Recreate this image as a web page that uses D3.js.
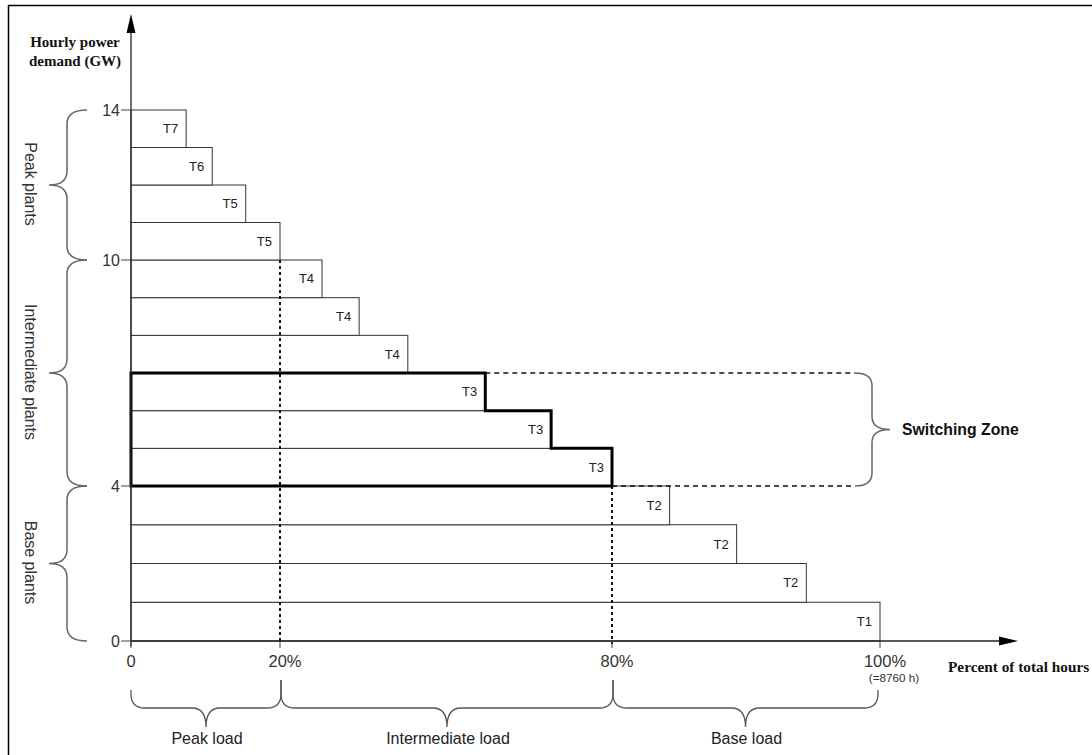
<!DOCTYPE html>
<html>
<head>
<meta charset="utf-8">
<script src="https://cdn.jsdelivr.net/npm/d3@7"></script>
<style>
  html, body { margin: 0; padding: 0; background: #fff; }
  svg { display: block; }
  text.sans { font-family: "Liberation Sans", Arial, sans-serif; }
  text.serif { font-family: "Liberation Serif", "Times New Roman", serif; font-weight: bold; }
</style>
</head>
<body>
<script>
// ---- Data ----
// Each bar spans one GW band [level, level+1] and runs from 0% to its end (% of total hours)
const levels   = [0, 1, 2, 3, 4, 5, 6, 7, 8, 9, 10, 11, 12, 13];
const endPct   = [100, 94.5, 89.3, 84.3, 80, 69, 57.1, 43.1, 34.3, 27.6, 20, 15.4, 10.9, 7.4];
const plantLabels = ["T1", "T2", "T2", "T2", "T3", "T3", "T3", "T4", "T4", "T4", "T5", "T5", "T6", "T7"];

const yTicks = [0, 4, 10, 14];
const xTicks = [0, 20, 80, 100];
const xTickLabels = ["0", "20%", "80%", "100%"];
const xTickSub = ["", "", "", "(=8760 h)"];

const plantGroups = [
  { name: "Peak plants", from: 10, to: 14 },
  { name: "Intermediate plants", from: 4, to: 10 },
  { name: "Base plants", from: 0, to: 4 }
];
const loadGroups = [
  { name: "Peak load", from: 0, to: 20 },
  { name: "Intermediate load", from: 20, to: 80 },
  { name: "Base load", from: 80, to: 100 }
];
const switchingLabel = "T3";
const switchingName = "Switching Zone";

// ---- Setup ----
const W = 1092, H = 755;
const svg = d3.select("body").append("svg").attr("width", W).attr("height", H);

// Piecewise scales (the original figure is not drawn to uniform scale)
const x = d3.scaleLinear().domain([0, 20, 80, 100]).range([131, 280, 612, 880]);
const y = d3.scaleLinear().domain([0, 4, 10, 14]).range([641, 486, 260, 110]);

const bars = levels.map((lv, i) => ({ level: lv, end: endPct[i], label: plantLabels[i] }));

// Frame (top and left edges)
svg.append("line").attr("x1", 8).attr("x2", W).attr("y1", 5.5).attr("y2", 5.5)
  .attr("stroke", "#000").attr("stroke-width", 1.5);
svg.append("line").attr("x1", 8.5).attr("x2", 8.5).attr("y1", 5).attr("y2", H)
  .attr("stroke", "#000").attr("stroke-width", 1.5);

// Bars
const g = svg.append("g");
g.selectAll("rect.bar").data(bars).join("rect")
  .attr("class", "bar")
  .attr("x", x(0))
  .attr("y", d => y(d.level + 1))
  .attr("width", d => x(d.end) - x(0))
  .attr("height", d => y(d.level) - y(d.level + 1))
  .attr("fill", "#fff")
  .attr("stroke", "#333")
  .attr("stroke-width", 1);

g.selectAll("text.lbl").data(bars).join("text")
  .attr("class", "lbl sans")
  .attr("x", d => x(d.end) - 8)
  .attr("y", d => (y(d.level) + y(d.level + 1)) / 2)
  .attr("dy", "0.35em")
  .attr("text-anchor", "end")
  .attr("font-size", 13)
  .attr("fill", "#222")
  .text(d => d.label);

// Dashed verticals at 20% and 80%
svg.append("line")
  .attr("x1", x(20)).attr("x2", x(20)).attr("y1", y(10)).attr("y2", y(0) + 3)
  .attr("stroke", "#111").attr("stroke-width", 2).attr("stroke-dasharray", "3,3");
svg.append("line")
  .attr("x1", x(80)).attr("x2", x(80)).attr("y1", y(4)).attr("y2", y(0) + 3)
  .attr("stroke", "#111").attr("stroke-width", 2).attr("stroke-dasharray", "3,3");

// Switching zone outline
const sw = bars.filter(d => d.label === switchingLabel).sort((a, b) => b.level - a.level);
const topLv = sw[0].level + 1, botLv = sw[sw.length - 1].level;
let p = `M${x(0)},${y(topLv)}`;
sw.forEach(d => {
  p += ` L${x(d.end)},${y(d.level + 1)} L${x(d.end)},${y(d.level)}`;
});
p += ` L${x(0)},${y(botLv)} Z`;
svg.append("path").attr("d", p).attr("fill", "none").attr("stroke", "#000")
  .attr("stroke-width", 3).attr("stroke-linejoin", "miter");

// Dashed horizontals to switching brace
const braceX = 855;
svg.append("line")
  .attr("x1", x(sw[0].end)).attr("x2", braceX).attr("y1", y(topLv)).attr("y2", y(topLv))
  .attr("stroke", "#111").attr("stroke-width", 1.6).attr("stroke-dasharray", "5,4");
svg.append("line")
  .attr("x1", x(sw[sw.length - 1].end)).attr("x2", braceX).attr("y1", y(botLv)).attr("y2", y(botLv))
  .attr("stroke", "#111").attr("stroke-width", 1.6).attr("stroke-dasharray", "5,4");

// Vertical brace (tip direction determined by xTip relative to xSpine)
function braceV(y1, y2, xEnd, xSpine, xTip, r) {
  const ym = (y1 + y2) / 2;
  return `M${xEnd},${y1} Q${xSpine},${y1} ${xSpine},${y1 + r} L${xSpine},${ym - r} ` +
         `Q${xSpine},${ym} ${xTip},${ym} Q${xSpine},${ym} ${xSpine},${ym + r} ` +
         `L${xSpine},${y2 - r} Q${xSpine},${y2} ${xEnd},${y2}`;
}
svg.append("path").attr("d", braceV(y(topLv), y(botLv), braceX, 872, 890, 13))
  .attr("fill", "none").attr("stroke", "#666").attr("stroke-width", 1.5);
svg.append("text").attr("class", "sans").attr("x", 902).attr("y", (y(topLv) + y(botLv)) / 2).attr("dy", "0.35em")
  .attr("font-size", 15.8).attr("font-weight", "bold").attr("fill", "#111").text(switchingName);

// Left braces (pointing left)
plantGroups.forEach(gr => {
  const y1 = y(gr.to), y2 = y(gr.from);
  svg.append("path").attr("d", braceV(y1, y2, 87, 67, 49, 14))
    .attr("fill", "none").attr("stroke", "#666").attr("stroke-width", 1.5);
  const cy = (y1 + y2) / 2 - 1;
  svg.append("text").attr("class", "sans")
    .attr("transform", `translate(31,${cy}) rotate(90)`)
    .attr("text-anchor", "middle").attr("dy", "0.35em")
    .attr("font-size", 16).attr("fill", "#333").text(gr.name);
});

// Bottom braces (pointing down)
function braceDown(x1, x2, y1End, y2End, yH, yTip, r) {
  const xm = (x1 + x2) / 2;
  return `M${x1},${y1End} L${x1},${yH - r} Q${x1},${yH} ${x1 + r},${yH} L${xm - r},${yH} ` +
         `Q${xm},${yH} ${xm},${yTip} Q${xm},${yH} ${xm + r},${yH} L${x2 - r},${yH} ` +
         `Q${x2},${yH} ${x2},${yH - r} L${x2},${y2End}`;
}
loadGroups.forEach((gr, i) => {
  const x1 = x(gr.from) + (i === 0 ? 0 : 1), x2 = x(gr.to) + (i === 2 ? -2 : 1);
  const e1 = i === 0 ? 690 : 680, e2 = i === 2 ? 690 : 680;
  svg.append("path").attr("d", braceDown(x1, x2, e1, e2, 708, 727, 14))
    .attr("fill", "none").attr("stroke", "#555").attr("stroke-width", 1.3);
  svg.append("text").attr("class", "sans").attr("x", (x1 + x2) / 2 + 1).attr("y", 744)
    .attr("text-anchor", "middle").attr("font-size", 16).attr("fill", "#222").text(gr.name);
});

// Axes
const axisColor = "#222";
svg.append("line").attr("x1", x(0)).attr("x2", x(0)).attr("y1", y(0) + 5).attr("y2", 30)
  .attr("stroke", axisColor).attr("stroke-width", 1.3);
svg.append("path").attr("d", `M${x(0)},14 L${x(0) - 4.5},33 L${x(0) + 4.5},33 Z`).attr("fill", "#000");
svg.append("line").attr("x1", x(0)).attr("x2", 1002).attr("y1", y(0)).attr("y2", y(0))
  .attr("stroke", axisColor).attr("stroke-width", 1.3);
svg.append("path").attr("d", `M1018,${y(0)} L999,${y(0) - 4.5} L999,${y(0) + 4.5} Z`).attr("fill", "#000");

// y ticks
const yAxisG = svg.append("g");
yAxisG.selectAll("line").data(yTicks).join("line")
  .attr("x1", x(0) - 10).attr("x2", x(0)).attr("y1", d => y(d)).attr("y2", d => y(d))
  .attr("stroke", "#444").attr("stroke-width", 1);
yAxisG.selectAll("text").data(yTicks).join("text").attr("class", "sans")
  .attr("x", x(0) - 11).attr("y", d => y(d)).attr("dy", "0.35em")
  .attr("text-anchor", "end").attr("font-size", 16).attr("fill", "#333").text(d => d);

// x ticks
const xAxisG = svg.append("g");
xAxisG.selectAll("line").data(xTicks).join("line")
  .attr("x1", d => x(d)).attr("x2", d => x(d)).attr("y1", y(0)).attr("y2", y(0) + 7)
  .attr("stroke", "#444").attr("stroke-width", 1);
xAxisG.selectAll("text.main").data(xTicks).join("text")
  .attr("class", "main sans")
  .attr("x", d => x(d) + (d === 0 ? 0 : 5)).attr("y", y(0) + 26)
  .attr("text-anchor", "middle").attr("font-size", 16.5).attr("fill", "#333")
  .text((d, i) => xTickLabels[i]);
xAxisG.selectAll("text.sub").data(xTicks).join("text")
  .attr("class", "sub sans")
  .attr("x", d => x(d) + 14).attr("y", y(0) + 41)
  .attr("text-anchor", "middle").attr("font-size", 11.7).attr("fill", "#333")
  .text((d, i) => xTickSub[i]);

// Axis titles
svg.append("text").attr("class", "serif").attr("x", 75).attr("y", 47).attr("text-anchor", "middle")
  .attr("font-size", 15).attr("fill", "#111").text("Hourly power");
svg.append("text").attr("class", "serif").attr("x", 75).attr("y", 66).attr("text-anchor", "middle")
  .attr("font-size", 15).attr("fill", "#111").text("demand (GW)");
svg.append("text").attr("class", "serif").attr("x", 948).attr("y", 672)
  .attr("font-size", 15.3).attr("fill", "#111").text("Percent of total hours");
</script>
</body>
</html>
